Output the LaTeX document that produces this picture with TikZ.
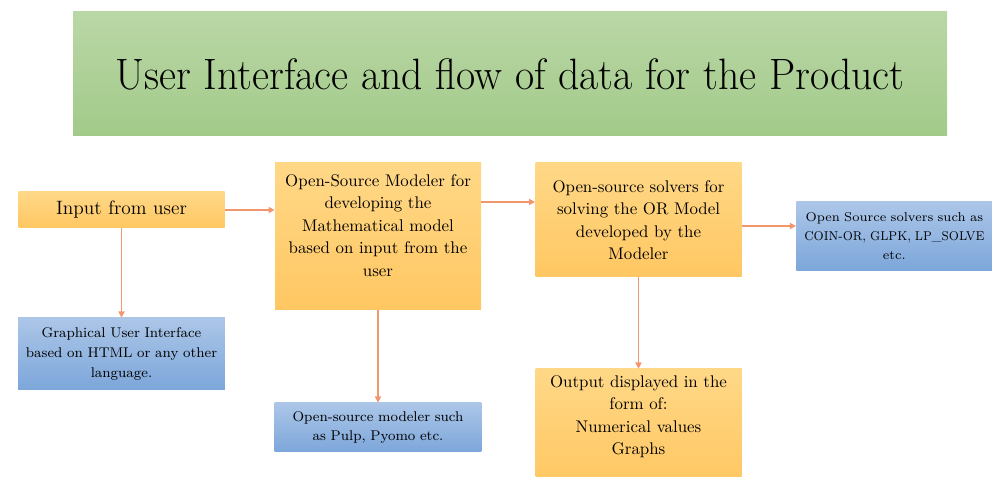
\documentclass[tikz,border=0pt]{standalone}
\usepackage{tikz}
\usetikzlibrary{arrows.meta,positioning,calc}
\usepackage{xcolor}
\definecolor{titletop}{RGB}{186,215,166}
\definecolor{titlebot}{RGB}{162,202,137}
\definecolor{ortop}{RGB}{255,216,135}
\definecolor{orbot}{RGB}{255,199,98}
\definecolor{bltop}{RGB}{172,198,232}
\definecolor{blbot}{RGB}{124,166,218}
\definecolor{arrorange}{RGB}{242,150,110}

\begin{document}
\begin{tikzpicture}[
  titlebox/.style={rectangle, top color=titletop, bottom color=titlebot,
              minimum width=17.48cm, minimum height=2.48cm, inner sep=0pt,
              font=\fontsize{25}{30}\selectfont},
  obox/.style={rectangle, top color=ortop, bottom color=orbot,
              minimum width=4.12cm, inner sep=2pt, text width=3.9cm,
              align=center, font=\fontsize{9.6}{12.8}\selectfont},
  bbox/.style={rectangle, top color=bltop, bottom color=blbot,
              minimum width=4.12cm, inner xsep=0.5pt, inner ysep=2pt, text width=4.1cm,
              align=center, font=\fontsize{8}{11.3}\selectfont},
  arr/.style={-{Triangle[length=3.5pt,width=3.5pt]}, line width=0.6pt, draw=arrorange},
]
\useasboundingbox (0,0) rectangle (19.84,-9.54);
\clip (0,0) rectangle (19.84,-9.54);

\node[titlebox] (title) at (10.2,-1.48)
  {\scalebox{0.95}[1]{User Interface and flow of data for the Product}};

\node[obox, minimum height=0.72cm, font=\fontsize{11}{13}\selectfont] (input) at (2.43,-4.2) {Input from user};
\node[bbox, minimum height=1.44cm] (gui) at (2.43,-7.08)
  {Graphical User Interface\\based on HTML or any other\\language.};
\node[obox, minimum height=2.94cm] (modeler) at (7.56,-4.73)
  {Open-Source Modeler for\\developing the\\Mathematical model\\based on input from the\\user\\\mbox{}};
\node[bbox, minimum height=0.98cm] (pulp) at (7.56,-8.55)
  {Open-source modeler such\\as Pulp, Pyomo etc.};
\node[bbox, anchor=west, minimum width=3.92cm, minimum height=1.38cm, text width=3.9cm,
      inner xsep=0pt, font=\fontsize{7.3}{10.8}\selectfont] (oss) at (15.92,-4.73)
  {Open Source solvers such as\\\scalebox{0.9}[1]{COIN-OR, GLPK, LP\_SOLVE}\\etc.};
\node[obox, minimum height=2.28cm] (solvers) at (12.77,-4.4)
  {Open-source solvers for\\solving the OR Model\\developed by the\\Modeler};
\node[obox, minimum height=2.3cm] (output) at (12.77,-8.53)
  {Output displayed in the\\form of:\\Numerical values\\Graphs\\\mbox{}};

\draw[arr] (input.east) -- (input.east -| modeler.west);
\draw[arr] ([yshift=3.6mm]solvers.west -| modeler.east) -- ([yshift=3.6mm]solvers.west);
\draw[arr] ([yshift=-1.2mm]solvers.east) -- ([yshift=-1.2mm]solvers.east -| oss.west);
\draw[arr] (input) -- (gui);
\draw[arr] (modeler) -- (pulp);
\draw[arr] (solvers) -- (output);
\end{tikzpicture}
\end{document}
